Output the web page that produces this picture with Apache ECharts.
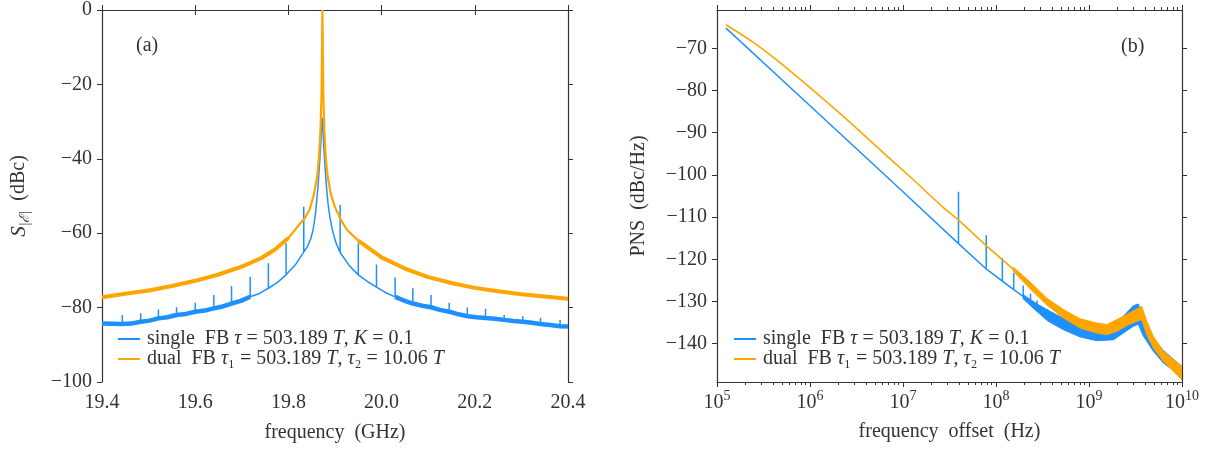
<!DOCTYPE html>
<html><head><meta charset="utf-8">
<script src="https://cdn.jsdelivr.net/npm/echarts@6/dist/echarts.min.js"></script>
<style>html,body{margin:0;padding:0;background:#fff}#c{width:1212px;height:450px}</style>
</head><body><div id="c"></div>
<script>
// ---------- panel (a): spectrum around the carrier ----------
const aDualFreq = [19.40,19.45,19.50,19.55,19.60,19.65,19.70,19.74,19.77,19.80,19.82,19.835,19.846,19.855,19.862,19.866,19.869,19.8712,19.873,19.8748,19.877,19.880,19.884,19.891,19.900,19.911,19.925,19.95,20.00,20.05,20.10,20.15,20.20,20.25,20.30,20.35,20.40];
const aDual     = [-77.2,-76.3,-75.4,-74.2,-72.8,-71.1,-69.0,-66.8,-64.5,-61.3,-58.2,-56.0,-53.5,-49.5,-44.5,-39.0,-32.0,-22.0,0.0,-22.0,-32.0,-39.5,-44.5,-49.5,-53.0,-56.0,-59.0,-62.0,-66.5,-69.5,-71.8,-73.4,-74.7,-75.6,-76.4,-77.0,-77.6];

const aSingleBaseF = [19.400,19.4436,19.463,19.483,19.502,19.521,19.540,19.560,19.580,19.600,19.620,19.640,19.659,19.678,19.698,19.718,19.738,19.757,19.776,19.795,19.815,19.833,19.840,19.848,19.853,19.858,19.8635,19.867,19.8695,19.871,19.8725,19.874,19.876,19.8785,19.882,19.885,19.889,19.895,19.902,19.911,19.930,19.950,19.970,19.989,20.009,20.029,20.048,20.067,20.087,20.106,20.125,20.145,20.165,20.184,20.204,20.223,20.243,20.263,20.283,20.303,20.322,20.341,20.362,20.383,20.400];
const aSingleBase  = [-84.3,-84.4,-84.3,-83.8,-83.5,-82.9,-82.6,-82.0,-81.7,-81.1,-80.8,-80.2,-79.7,-78.9,-78.2,-77.1,-76.2,-74.8,-73.3,-71.2,-68.5,-65.0,-63.8,-61.5,-59.1,-55.0,-47.5,-41.0,-36.0,-32.0,-29.0,-32.0,-37.0,-42.0,-48.0,-52.0,-55.6,-59.5,-62.5,-65.2,-68.6,-71.2,-73.0,-74.5,-76.0,-77.1,-78.1,-78.9,-79.5,-79.9,-80.6,-81.1,-81.8,-82.3,-82.6,-82.8,-83.0,-83.3,-83.6,-83.8,-84.1,-84.4,-84.7,-85.0,-85.1];
const aSpikeF   = [19.4436,19.483,19.521,19.560,19.600,19.640,19.678,19.718,19.757,19.795,19.833,19.911,19.950,19.989,20.029,20.067,20.106,20.145,20.184,20.223,20.263,20.303,20.341,20.383];
const aSpikeTop = [-82.0,-81.5,-80.5,-79.9,-78.7,-76.6,-74.2,-71.7,-68.1,-62.7,-52.9,-52.4,-62.7,-68.4,-71.9,-74.8,-76.6,-78.7,-80.0,-80.3,-82.0,-82.3,-82.7,-83.3];
const aCarrier = 19.873;
const aXTicks = [19.4, 20.4, 0.2];
const aYTicks = [-100, 0, 20];

// ---------- panel (b): phase noise ----------
const bDualF = [1.25e5,2.5e5,4.4e5,1e6,2.3e6,5.2e6,1.2e7,2.7e7,3.9e7,7.8e7,1.1e8,1.54e8];
const bDual  = [-64.4,-68.7,-72.8,-79.3,-86.2,-93.3,-100.5,-107.7,-110.6,-116.7,-119.6,-122.4];
const bDualBandF = [1.54e8,2.33e8,3.5e8,5.3e8,8e8,1.21e9,1.55e9,1.99e9,2.55e9,3.26e9,3.69e9,4.18e9,4.92e9,6.3e9,8.1e9,1e10];
const bDualHi    = [-121.9,-125.4,-129.2,-131.9,-134.1,-135.1,-135.5,-134.3,-133.1,-131.8,-131.2,-134.7,-138.3,-141.8,-143.8,-145.4];
const bDualLo    = [-122.9,-127.0,-130.8,-133.9,-136.3,-137.5,-137.9,-137.1,-135.7,-134.7,-134.3,-137.9,-141.0,-144.2,-146.6,-148.5];

const bSingleBaseF = [1.25e5,1e6,1e7,3.95e7,7.85e7,1.17e8,1.55e8,1.96e8,2.35e8,2.76e8,3.17e8,3.58e8];
const bSingleBase  = [-65.2,-83.6,-104.0,-116.3,-122.3,-125.2,-127.2,-128.8,-130.3,-131.5,-132.7,-133.5];
const bSpikeF   = [3.95e7,7.85e7,1.17e8,1.55e8,1.96e8,2.35e8,2.76e8,3.17e8,3.58e8];
const bSpikeTop = [-104.0,-114.3,-119.7,-123.2,-126.2,-128.1,-129.8,-131.3,-131.8];
const bSingleBandF = [1.96e8,2.76e8,3.58e8,5.3e8,8e8,1.21e9,1.83e9,2.34e9,3.0e9,3.39e9,3.84e9,4.92e9,6.3e9,8.8e9,1e10];
const bSingleHi    = [-128.4,-130.6,-132.0,-134.0,-135.6,-136.2,-135.7,-133.5,-131.0,-130.6,-133.8,-138.8,-141.6,-144.4,-145.4];
const bSingleLo    = [-129.4,-132.4,-134.6,-136.7,-138.4,-139.3,-139.1,-137.5,-135.9,-135.4,-138.2,-141.8,-144.6,-147.0,-148.5];
const bYLabels = [-140,-130,-120,-110,-100,-90,-80,-70];
const bYRange = [-149.1, -60.9];
const bXRange = [1e5, 1e10];

const legendNames = {
  single: 'single  FB {i|τ} = 503.189 {i|T}, {i|K} = 0.1',
  dual: 'dual  FB {i|τ}₁ = 503.189 {i|T}, {i|τ}₂ = 10.06 {i|T}'
};

// ---------- build ----------
const FONT = 'Liberation Serif';
const AX = '#333';
const BLUE = '#1e90ff', ORANGE = '#ffa500';

function withSpikes(F, V, SF, ST) {
  const out = [];
  F.forEach((f, i) => {
    out.push([f, V[i]]);
    const k = SF.indexOf(f);
    if (k >= 0) out.push([f, ST[k]], [f, V[i]]);
  });
  return out;
}
function wings(F, V, c, w) {
  const L = [], R = [];
  F.forEach((f, i) => { if (f < c - w) L.push([f, V[i]]); else if (f > c + w) R.push([f, V[i]]); });
  return L.concat([['-', '-']], R);
}
const minus = v => (v < 0 ? '\u2212' + Math.abs(v) : String(v));
const lab = { fontFamily: FONT, fontSize: 20, color: AX };

function bandSeries(xi, yi, F, HI, LO, color, z) {
  return {
    type: 'custom', xAxisIndex: xi, yAxisIndex: yi, z: z, silent: true, clip: true,
    data: F.map((f, i) => [f, HI[i], LO[i]]),
    encode: { x: 0, y: [1, 2] },
    renderItem: function (params, api) {
      if (params.dataIndex !== 0) return null;
      const pts = [];
      for (let i = 0; i < F.length; i++) pts.push(api.coord([F[i], HI[i]]));
      for (let i = F.length - 1; i >= 0; i--) pts.push(api.coord([F[i], LO[i]]));
      return { type: 'polygon', shape: { points: pts }, style: { fill: color, stroke: color, lineWidth: 1 } };
    }
  };
}
function lineSeries(name, xi, yi, data, color, width, z, smooth) {
  const s = { type: 'line', xAxisIndex: xi, yAxisIndex: yi, data: data, showSymbol: false, symbol: 'none',
    lineStyle: { color: color, width: width }, itemStyle: { color: color }, z: z, silent: true, clip: true,
    connectNulls: false, smooth: smooth || false };
  if (name) s.name = name;
  return s;
}

const minorVals = [];
for (let e = 5; e < 10; e++) for (let k = 2; k <= 9; k++) minorVals.push(Math.log10(k * Math.pow(10, e)));

const tick = { show: true, inside: false, length: 5, lineStyle: { color: AX, width: 1 } };
const axLine = { show: true, lineStyle: { color: AX, width: 1.2 } };

const option = {
  animation: false,
  backgroundColor: '#fff',
  grid: [
    { left: 102, top: 10, width: 466, height: 372, containLabel: false, outerBoundsMode: 'none' },
    { left: 717, top: 10, width: 465, height: 372, containLabel: false, outerBoundsMode: 'none' }
  ],
  xAxis: [
    { gridIndex: 0, type: 'value', position: 'bottom', min: aXTicks[0], max: aXTicks[1], interval: aXTicks[2],
      axisLine: axLine, axisTick: tick, splitLine: { show: false },
      axisLabel: Object.assign({ margin: 11, formatter: v => v.toFixed(1) }, lab),
      name: 'frequency  (GHz)', nameLocation: 'middle', nameGap: 41, nameTextStyle: lab },
    { gridIndex: 0, type: 'value', position: 'top', min: aXTicks[0], max: aXTicks[1], interval: aXTicks[2],
      axisLine: axLine, axisTick: tick, splitLine: { show: false }, axisLabel: { show: false } },
    { gridIndex: 1, type: 'log', logBase: 10, position: 'bottom', min: bXRange[0], max: bXRange[1],
      axisLine: axLine, axisTick: tick, splitLine: { show: false }, minorTick: { show: false },
      axisLabel: { margin: 7, formatter: v => '{b|10}{s|' + Math.round(Math.log10(v)) + '}',
        rich: { b: { fontFamily: FONT, fontSize: 20, color: AX, lineHeight: 28 },
                s: { fontFamily: FONT, fontSize: 14, color: AX, lineHeight: 14, verticalAlign: 'top' } } },
      name: 'frequency  offset  (Hz)', nameLocation: 'middle', nameGap: 40, nameTextStyle: lab },
    { gridIndex: 1, type: 'log', logBase: 10, position: 'top', min: bXRange[0], max: bXRange[1],
      axisLine: axLine, axisTick: tick, splitLine: { show: false }, axisLabel: { show: false } },
    { gridIndex: 1, type: 'value', position: 'bottom', min: 5, max: 10,
      axisLine: { show: false }, splitLine: { show: false }, axisLabel: { show: false },
      axisTick: { show: true, inside: false, length: 3, customValues: minorVals, lineStyle: { color: AX, width: 1 } } },
    { gridIndex: 1, type: 'value', position: 'top', min: 5, max: 10,
      axisLine: { show: false }, splitLine: { show: false }, axisLabel: { show: false },
      axisTick: { show: true, inside: false, length: 3, customValues: minorVals, lineStyle: { color: AX, width: 1 } } }
  ],
  yAxis: [
    { gridIndex: 0, type: 'value', position: 'left', min: aYTicks[0], max: aYTicks[1], interval: aYTicks[2],
      axisLine: axLine, axisTick: tick, splitLine: { show: false },
      axisLabel: Object.assign({ margin: 10, formatter: minus }, lab),
      name: '{i|S}{sub||ℰ|}  (dBc)', nameLocation: 'middle', nameGap: 70,
      nameTextStyle: Object.assign({ rich: {
        i: { fontFamily: FONT, fontSize: 21, fontStyle: 'italic', color: AX, lineHeight: 26 },
        sub: { fontFamily: FONT, fontSize: 14, fontStyle: 'italic', color: AX, lineHeight: 14, verticalAlign: 'bottom' } } }, lab) },
    { gridIndex: 0, type: 'value', position: 'right', min: aYTicks[0], max: aYTicks[1], interval: aYTicks[2],
      axisLine: axLine, axisTick: tick, splitLine: { show: false }, axisLabel: { show: false } },
    { gridIndex: 1, type: 'value', position: 'left', min: bYRange[0], max: bYRange[1],
      axisLine: axLine, splitLine: { show: false },
      axisTick: Object.assign({ customValues: bYLabels }, tick),
      axisLabel: Object.assign({ margin: 10, formatter: minus, customValues: bYLabels }, lab),
      name: 'PNS  (dBc/Hz)', nameLocation: 'middle', nameGap: 68, nameTextStyle: lab },
    { gridIndex: 1, type: 'value', position: 'right', min: bYRange[0], max: bYRange[1],
      axisLine: axLine, splitLine: { show: false }, axisLabel: { show: false },
      axisTick: Object.assign({ customValues: bYLabels }, tick) }
  ],
  legend: [
    { left: 113, top: 324, orient: 'vertical', itemGap: 0, itemWidth: 22, itemHeight: 2, icon: 'rect',
      data: ['single', 'dual'], selectedMode: false, formatter: n => legendNames[n],
      textStyle: { fontFamily: FONT, fontSize: 20, color: AX, lineHeight: 20, padding: [0, 0, 0, 2],
        rich: { i: { fontFamily: FONT, fontSize: 20, fontStyle: 'italic', color: AX } } } },
    { left: 729, top: 324, orient: 'vertical', itemGap: 0, itemWidth: 22, itemHeight: 2, icon: 'rect',
      data: ['single', 'dual'], selectedMode: false, formatter: n => legendNames[n],
      textStyle: { fontFamily: FONT, fontSize: 20, color: AX, lineHeight: 20, padding: [0, 0, 0, 2],
        rich: { i: { fontFamily: FONT, fontSize: 20, fontStyle: 'italic', color: AX } } } }
  ],
  graphic: [
    { type: 'text', left: 136, top: 36, style: { text: '(a)', font: '20px "Liberation Serif"', fill: AX } },
    { type: 'text', left: 1121, top: 37, style: { text: '(b)', font: '20px "Liberation Serif"', fill: AX } }
  ],
  series: [
    // panel (a)
    lineSeries(null, 0, 0, wings(aSingleBaseF, aSingleBase, aCarrier, 0.14), BLUE, 4.5, 2),
    lineSeries('single', 0, 0, withSpikes(aSingleBaseF, aSingleBase, aSpikeF, aSpikeTop), BLUE, 1.5, 3),
    lineSeries(null, 0, 0, wings(aDualFreq, aDual, aCarrier, 0.07), ORANGE, 4, 4),
    lineSeries('dual', 0, 0, aDualFreq.map((f, i) => [f, aDual[i]]), ORANGE, 2.2, 5),
    // panel (b)
    bandSeries(2, 2, bSingleBandF, bSingleHi, bSingleLo, BLUE, 2),
    lineSeries('single', 2, 2, withSpikes(bSingleBaseF, bSingleBase, bSpikeF, bSpikeTop), BLUE, 1.5, 3),
    bandSeries(2, 2, bDualBandF, bDualHi, bDualLo, ORANGE, 4),
    lineSeries('dual', 2, 2, bDualF.map((f, i) => [f, bDual[i]]), ORANGE, 1.6, 5, 0.3)
  ]
};
const chart = echarts.init(document.getElementById('c'), null, { renderer: 'canvas' });
chart.setOption(option);
</script></body></html>
